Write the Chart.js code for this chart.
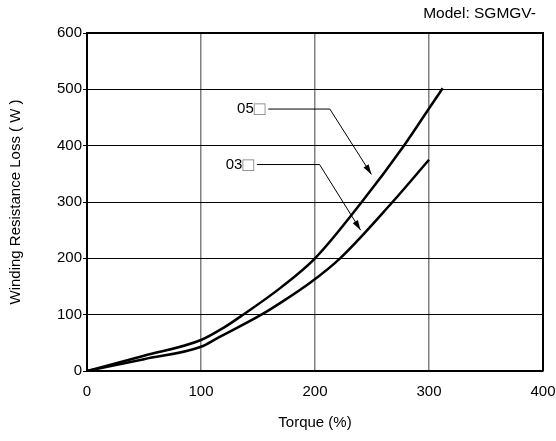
<!DOCTYPE html>
<html>
<head>
<meta charset="utf-8">
<script src="https://cdn.jsdelivr.net/npm/chart.js@4/dist/chart.umd.min.js"></script>
<style>
  body { margin: 0; background: #fff; }
  #wrap { width: 556px; height: 441px; }
</style>
</head>
<body>
<div id="wrap"><canvas id="lossChart" width="556" height="441"></canvas></div>
<script>
// Winding resistance loss vs torque, SGMGV- 03 / 05
const xTicks = [0, 100, 200, 300, 400];
const yTicks = [0, 100, 200, 300, 400, 500, 600];

const torque05 = [0, 50, 100, 120, 137, 170, 200, 241, 278, 300, 312];
const loss05   = [0, 27, 55, 77, 100, 148, 200, 300, 400, 466, 502];

const torque03 = [0, 50, 100, 114, 153, 169, 196, 222, 268, 300];
const loss03   = [0, 21, 43, 58, 100, 120, 157, 200, 300, 375];

// callout leaders in data units: start, corner, arrow tip
const callouts = [
    { name: '05', start: [159, 465], corner: [213, 465], tip: [249.5, 349] },
    { name: '03', start: [149, 366.5], corner: [204, 366.5], tip: [240, 250] }
];

const FONT = "'Liberation Sans', Arial, sans-serif";

function toPoints(xs, ys) {
    return xs.map((x, i) => ({ x: x, y: ys[i] }));
}

const framePlugin = {
    id: 'frame',
    afterDraw(chart) {
        const { ctx, chartArea: a, scales } = chart;
        ctx.save();
        // top + right frame
        ctx.strokeStyle = '#000';
        ctx.lineWidth = 2;
        ctx.beginPath();
        ctx.moveTo(a.left, a.top);
        ctx.lineTo(a.right, a.top);
        ctx.lineTo(a.right, a.bottom);
        ctx.stroke();

        // model text
        ctx.fillStyle = '#000';
        ctx.font = '15.5px ' + FONT;
        ctx.textAlign = 'right';
        ctx.textBaseline = 'middle';
        ctx.fillText('Model: SGMGV-', 536, 14);

        // callouts
        callouts.forEach(c => {
            const sx = scales.x.getPixelForValue(c.start[0]);
            const sy = scales.y.getPixelForValue(c.start[1]);
            const cx = scales.x.getPixelForValue(c.corner[0]);
            const cy = scales.y.getPixelForValue(c.corner[1]);
            const tx = scales.x.getPixelForValue(c.tip[0]);
            const ty = scales.y.getPixelForValue(c.tip[1]);

            ctx.strokeStyle = '#000';
            ctx.lineWidth = 1;
            ctx.beginPath();
            ctx.moveTo(sx, sy);
            ctx.lineTo(cx, cy);
            ctx.lineTo(tx, ty);
            ctx.stroke();

            // arrow head
            const ang = Math.atan2(ty - cy, tx - cx);
            const len = 10, half = 3;
            ctx.fillStyle = '#000';
            ctx.beginPath();
            ctx.moveTo(tx, ty);
            ctx.lineTo(tx - len * Math.cos(ang) + half * Math.sin(ang), ty - len * Math.sin(ang) - half * Math.cos(ang));
            ctx.lineTo(tx - len * Math.cos(ang) - half * Math.sin(ang), ty - len * Math.sin(ang) + half * Math.cos(ang));
            ctx.closePath();
            ctx.fill();

            // label + box glyph
            ctx.font = '19px ' + FONT;
            ctx.fillStyle = '#777';
            ctx.textAlign = 'right';
            ctx.textBaseline = 'middle';
            ctx.fillText('□', sx - 3, sy + 1);
            const boxW = ctx.measureText('□').width;
            ctx.font = '15px ' + FONT;
            ctx.fillStyle = '#000';
            ctx.fillText(c.name, sx - 3 - boxW, sy);
        });
        ctx.restore();
    }
};

new Chart(document.getElementById('lossChart'), {
    type: 'scatter',
    data: {
        datasets: [
            {
                label: '05',
                data: toPoints(torque05, loss05),
                showLine: true,
                borderColor: '#000',
                borderWidth: 2.5,
                pointRadius: 0,
                cubicInterpolationMode: 'monotone'
            },
            {
                label: '03',
                data: toPoints(torque03, loss03),
                showLine: true,
                borderColor: '#000',
                borderWidth: 2.5,
                pointRadius: 0,
                cubicInterpolationMode: 'monotone'
            }
        ]
    },
    options: {
        responsive: false,
        animation: false,
        layout: { padding: { top: 33, right: 13, left: 0, bottom: 0 } },
        plugins: {
            legend: { display: false },
            tooltip: { enabled: false }
        },
        scales: {
            x: {
                type: 'linear',
                min: 0,
                max: 400,
                afterFit: s => { s.height = 70; s.paddingLeft = 0; s.paddingRight = 0; },
                afterBuildTicks: s => { s.ticks = xTicks.map(v => ({ value: v })); },
                ticks: { color: '#000', padding: 12, font: { size: 15, family: FONT } },
                grid: { color: '#808080', lineWidth: 1.5, drawTicks: false },
                border: { color: '#000', width: 2 },
                title: {
                    display: true,
                    text: 'Torque (%)',
                    color: '#000',
                    font: { size: 15, family: FONT },
                    padding: { top: 0, bottom: 9 }
                }
            },
            y: {
                type: 'linear',
                min: 0,
                max: 600,
                afterFit: s => { s.width = 87; s.paddingTop = 0; s.paddingBottom = 0; },
                afterBuildTicks: s => { s.ticks = yTicks.map(v => ({ value: v })); },
                ticks: { color: '#000', padding: 1, font: { size: 15, family: FONT } },
                grid: { color: '#000', lineWidth: 1, tickLength: 4 },
                border: { color: '#000', width: 2 },
                title: {
                    display: true,
                    text: 'Winding Resistance Loss ( W )',
                    color: '#000',
                    font: { size: 15, family: FONT },
                    padding: { top: 7, bottom: 0 }
                }
            }
        }
    },
    plugins: [framePlugin]
});
</script>
</body>
</html>
